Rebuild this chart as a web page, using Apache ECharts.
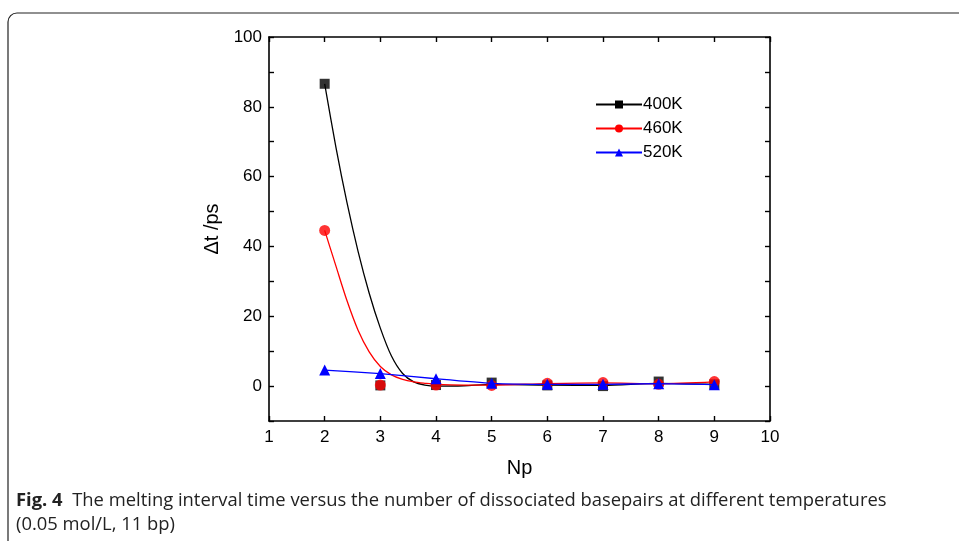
<!DOCTYPE html>
<html><head><meta charset="utf-8">
<script src="https://cdn.jsdelivr.net/npm/echarts@6/dist/echarts.min.js"></script>
<style>html,body{margin:0;padding:0;background:#fff}#c{width:959px;height:541px}</style>
</head><body><div id="c"></div>
<script>
// Marker data (Np vs Δt)
const np = [2, 3, 4, 5, 6, 7, 8, 9];
const t400 = [86.6, 0.2, 0.3, 1.0, 0.2, 0.0, 1.3, 0.5];
const t460 = [44.6, 0.3, 0.3, 0.2, 0.8, 1.0, 0.5, 1.3];
const t520 = [4.6, 3.6, 2.1, 0.8, 0.5, 0.5, 0.7, 0.4];
// Fitted (B-spline) curves
const curveX = [2, 2.2, 2.4, 2.6, 2.8, 3, 3.2, 3.4, 3.6, 3.8, 4, 4.5, 5, 6, 7, 8, 9];
const curve400 = [86.6, 68.6, 52.6, 38.6, 26.6, 16.6, 8.6, 3.6, 1.2, 0.3, 0.0, 0.1, 0.5, 0.3, 0.2, 0.8, 0.5];
const curve460 = [44.6, 34.5, 24.5, 16, 9.8, 5.6, 3.2, 1.9, 1.2, 0.8, 0.5, 0.3, 0.3, 0.7, 0.9, 0.7, 1.2];
const names = ['400K', '460K', '520K'];
const xTicks = [1, 10, 1];
const yTicks = [-10, 100, 10];

const zip = (xs, ys) => xs.map((x, i) => [x, ys[i]]);
const font = 'Liberation Sans, Arial, sans-serif';
const chart = echarts.init(document.getElementById('c'));
const axisCommon = {
  axisLine: {show: true, onZero: false, lineStyle: {color: '#000', width: 1.6}},
  axisTick: {show: true, inside: true, length: 5, lineStyle: {color: '#000', width: 1.4}},
  splitLine: {show: false}
};
chart.setOption({
  animation: false,
  grid: {left: 269, right: 189, top: 37, bottom: 120},
  xAxis: [
    Object.assign({type: 'value', min: xTicks[0], max: xTicks[1], interval: xTicks[2], position: 'bottom',
      name: 'Np', nameLocation: 'middle', nameGap: 37,
      nameTextStyle: {fontFamily: font, fontSize: 20, color: '#000'},
      axisLabel: {fontFamily: font, fontSize: 17, color: '#000', margin: 8}}, axisCommon),
    Object.assign({type: 'value', min: xTicks[0], max: xTicks[1], interval: xTicks[2], position: 'top',
      axisLabel: {show: false}}, axisCommon)
  ],
  yAxis: [
    Object.assign({type: 'value', min: yTicks[0], max: yTicks[1], interval: yTicks[2], position: 'left',
      name: 'Δt /ps', nameLocation: 'middle', nameGap: 22, nameRotate: 90,
      nameTextStyle: {fontFamily: font, fontSize: 20, color: '#000'},
      axisLabel: {fontFamily: font, fontSize: 17, color: '#000', margin: 7,
        formatter: v => (v % 20 === 0 ? String(v) : '')}}, axisCommon),
    Object.assign({type: 'value', min: yTicks[0], max: yTicks[1], interval: yTicks[2], position: 'right',
      axisLabel: {show: false}}, axisCommon)
  ],
  legend: {
    data: names, orient: 'vertical', left: 590, top: 91, itemWidth: 46, itemHeight: 10, itemGap: 7,
    textStyle: {fontFamily: font, fontSize: 17, color: '#000', padding: [0, 0, 0, -4]}
  },
  series: [
    {name: '400K', type: 'line', data: zip(curveX, curve400), smooth: 0.3,
      symbol: 'rect', symbolSize: 9, showSymbol: false, color: '#000', lineStyle: {width: 1.3, color: '#000'}, z: 2},
    {name: '460K', type: 'line', data: zip(curveX, curve460), smooth: 0.3,
      symbol: 'circle', symbolSize: 10, showSymbol: false, color: '#f00', lineStyle: {width: 1.3, color: '#f00'}, z: 2},
    {name: '520K', type: 'line', data: zip(np, t520), smooth: 0.2,
      symbol: 'triangle', symbolSize: 11, color: '#00f', lineStyle: {width: 1.3, color: '#00f'}, z: 4},
    {name: '400K pts', type: 'scatter', data: zip(np, t400), symbol: 'rect', symbolSize: 10, itemStyle: {color: '#000'}, z: 3},
    {name: '460K pts', type: 'scatter', data: zip(np, t460), symbol: 'circle', symbolSize: 11, itemStyle: {color: '#f00'}, z: 3}
  ],
  graphic: [
    {type: 'rect', shape: {x: 8, y: 13, width: 1000, height: 600, r: 9}, style: {fill: 'none', stroke: '#222', lineWidth: 1.2}, silent: true},
    {type: 'text', left: 16, top: 489, style: {
      text: '{b|Fig. 4}  The melting interval time versus the number of dissociated basepairs at different temperatures\n(0.05 mol/L, 11 bp)',
      rich: {b: {fontFamily: 'Open Sans, sans-serif', fontWeight: 'bold', fontSize: 18.4, fill: '#222'}},
      fontFamily: 'Open Sans, sans-serif', fontSize: 18.4, lineHeight: 24, fill: '#222'}}
  ]
});
</script></body></html>
